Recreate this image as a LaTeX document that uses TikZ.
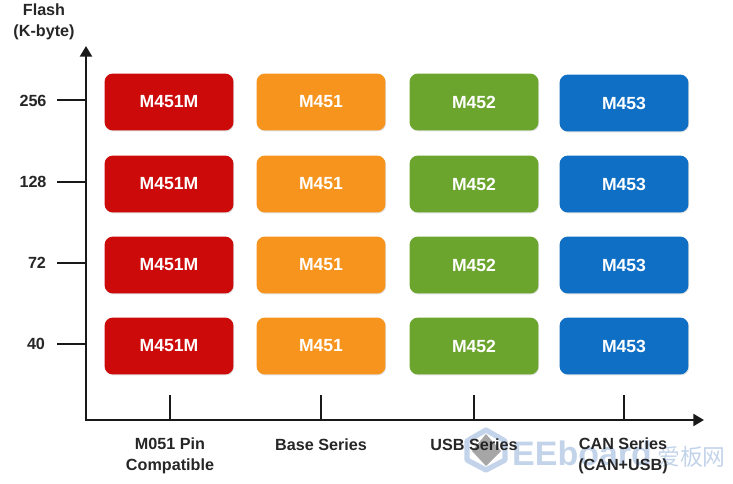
\documentclass[tikz,border=0pt]{standalone}
\usepackage{fontspec}
\setmainfont{Liberation Sans}
\newfontfamily\cjkmark{Noto Sans CJK SC}
\usetikzlibrary{arrows.meta}
\usetikzlibrary{shadows}
\definecolor{boxred}{HTML}{CC0A0A}
\definecolor{boxorange}{HTML}{F7941E}
\definecolor{boxgreen}{HTML}{6BA52E}
\definecolor{boxblue}{HTML}{0E6FC4}
\definecolor{markblue}{HTML}{C3D4EA}
\tikzset{
	partbox/.style={rounded corners=7pt, minimum width=110pt, minimum height=48.5pt, inner sep=0pt,
		text=white, font=\bfseries\fontsize{15}{15}\selectfont,
		drop shadow={shadow xshift=0.6pt, shadow yshift=-0.8pt, opacity=0.25}},
	axislabel/.style={align=center, font=\bfseries\fontsize{13.8}{17.5}\selectfont, text=black!85},
	axisline/.style={line width=2.4pt, black!90},
	axisarrow/.style={axisline, -{Triangle[length=9pt, width=10pt]}}
}
\begin{document}
\begin{tikzpicture}[x=0.03cm, y=-0.03cm]
	\useasboundingbox (0, 0) rectangle (733, 484);
	% watermark
	\begin{scope}
		\draw[markblue, line width=4.5pt, line join=round] (486, 430) -- (505, 441) -- (505, 460) -- (486, 470) -- (467, 460) -- (467, 441) -- cycle;
		\fill[black!35] (486, 434) -- (501, 451) -- (486, 466) -- (472, 451) -- cycle;
		\node (markname) [anchor=base west, inner sep=0pt, text=markblue, font=\bfseries\fontsize{29}{29}\selectfont] at (512, 465) {EEboard};
		\node (markcjk) [anchor=base west, inner sep=0pt, text=markblue, font=\cjkmark\fontsize{19.5}{20}\selectfont] at (657, 465) {爱板网};
	\end{scope}
	% axes
	\coordinate (origin) at (86, 420);
	\coordinate (ytop) at (86, 46);
	\coordinate (xend) at (704, 420);
	\draw[axisarrow] (origin) -- (ytop);
	\draw[axisarrow] ([xshift=-1.2pt]origin) -- (xend);
	% flash sizes
	\node (size256) [axislabel] at (33, 101) {256};
	\node (size128) [axislabel] at (33, 182) {128};
	\node (size72) [axislabel] at (37, 263) {72};
	\node (size40) [axislabel] at (36, 344) {40};
	\node (flash) [axislabel] at (44, 22) {Flash\\(K-byte)};
	\draw[axisline] (57, 100) -- (86, 100);
	\draw[axisline] (57, 182) -- (86, 182);
	\draw[axisline] (57, 263) -- (86, 263);
	\draw[axisline] (57, 344) -- (86, 344);
	% series
	\draw[axisline] (170, 395) -- (170, 420);
	\draw[axisline] (321, 395) -- (321, 420);
	\draw[axisline] (474, 395) -- (474, 420);
	\draw[axisline] (624, 395) -- (624, 420);
	\node (pin) [axislabel] at (170, 456) {M051 Pin\\Compatible};
	\node (base) [axislabel] at (321, 445) {Base Series};
	\node (usb) [axislabel] at (474, 445) {USB Series};
	\node (can) [axislabel] at (623, 456) {CAN Series\\(CAN+USB)};
	% part boxes
	\node (red256) [partbox, fill=boxred] at (169, 102) {M451M};
	\node (red128) [partbox, fill=boxred] at (169, 184) {M451M};
	\node (red72) [partbox, fill=boxred] at (169, 265) {M451M};
	\node (red40) [partbox, fill=boxred] at (169, 346) {M451M};
	\node (orange256) [partbox, fill=boxorange] at (321, 102) {M451};
	\node (orange128) [partbox, fill=boxorange] at (321, 184) {M451};
	\node (orange72) [partbox, fill=boxorange] at (321, 265) {M451};
	\node (orange40) [partbox, fill=boxorange] at (321, 346) {M451};
	\node (green256) [partbox, fill=boxgreen] at (474, 102) {M452};
	\node (green128) [partbox, fill=boxgreen] at (474, 184) {M452};
	\node (green72) [partbox, fill=boxgreen] at (474, 265) {M452};
	\node (green40) [partbox, fill=boxgreen] at (474, 346) {M452};
	\node (blue256) [partbox, fill=boxblue] at (624, 103) {M453};
	\node (blue128) [partbox, fill=boxblue] at (624, 184) {M453};
	\node (blue72) [partbox, fill=boxblue] at (624, 265) {M453};
	\node (blue40) [partbox, fill=boxblue] at (624, 346) {M453};
\end{tikzpicture}
\end{document}
